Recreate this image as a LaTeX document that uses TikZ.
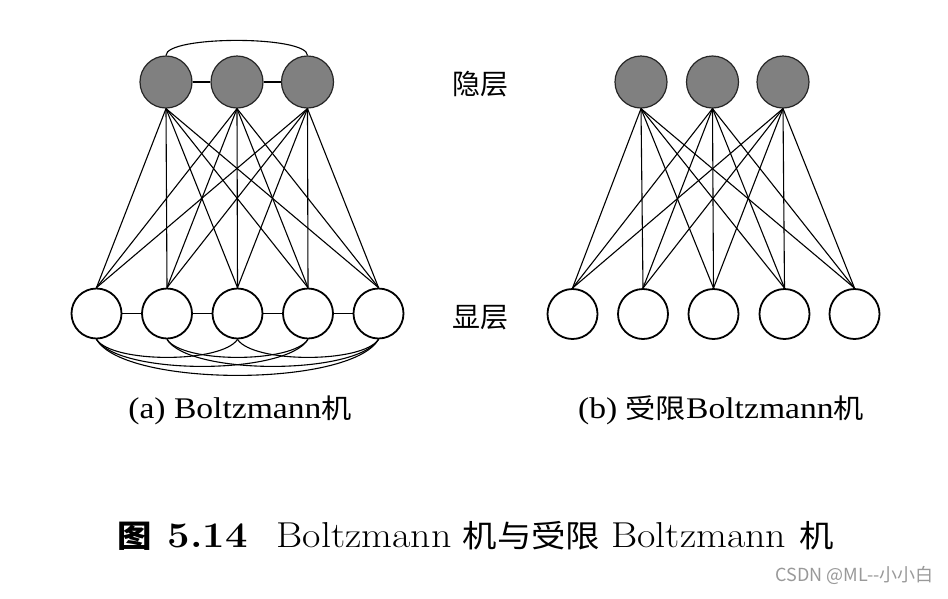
\documentclass[tikz,border=0pt]{standalone}
\usepackage{fontspec}
\newfontfamily\cjk{Noto Sans CJK SC}
\newfontfamily\tnr{Liberation Serif}
\newfontfamily\wmfont{Noto Sans CJK SC}
\tikzset{
  hid/.style={circle, minimum size=52pt, inner sep=0pt, draw=black!85, fill=black!50, line width=1.2pt},
  vis/.style={circle, minimum size=50pt, inner sep=0pt, draw=black, fill=white, line width=1.8pt},
  edge/.style={line width=1.1pt, black},
  layerlabel/.style={font=\cjk\fontsize{28}{28}\selectfont},
}
\begin{document}
\begin{tikzpicture}[x=1pt, y=-1pt]
\path[fill=white] (0,0) rectangle (948,598);
\useasboundingbox (0,0) rectangle (948,598);

% ---------- (a) Boltzmann machine ----------
\node[hid] (h1) at (166,82) {};
\node[hid] (h2) at (237,82) {};
\node[hid] (h3) at (307.5,82) {};
\node[vis] (v1) at (96.5,313.5) {};
\node[vis] (v2) at (167,313.5) {};
\node[vis] (v3) at (237.5,313.5) {};
\node[vis] (v4) at (308,313.5) {};
\node[vis] (v5) at (378.5,313.5) {};

\foreach \h in {h1,h2,h3}
  \foreach \v in {v1,v2,v3,v4,v5}
    \draw[edge] (\h.south) -- (\v.north);

\draw[edge] (h1) -- (h2);
\draw[edge] (h2) -- (h3);
\draw[edge] (h1.north) .. controls +(0,-20) and +(0,-20) .. (h3.north);

\draw[edge] (v1) -- (v2);
\draw[edge] (v2) -- (v3);
\draw[edge] (v3) -- (v4);
\draw[edge] (v4) -- (v5);
\draw[edge] (v1.south) .. controls +(16,24) and +(-16,24) .. (v3.south);
\draw[edge] (v2.south) .. controls +(16,24) and +(-16,24) .. (v4.south);
\draw[edge] (v3.south) .. controls +(16,24) and +(-16,24) .. (v5.south);
\draw[edge] (v1.south) .. controls +(22,36) and +(-22,36) .. (v4.south);
\draw[edge] (v2.south) .. controls +(22,36) and +(-22,36) .. (v5.south);
\draw[edge] (v1.south) .. controls +(28,48) and +(-28,48) .. (v5.south);

% ---------- (b) restricted Boltzmann machine ----------
\node[hid] (H1) at (641,82) {};
\node[hid] (H2) at (712.5,82) {};
\node[hid] (H3) at (783,82) {};
\node[vis] (V1) at (572.5,314) {};
\node[vis] (V2) at (643,314) {};
\node[vis] (V3) at (713.5,314) {};
\node[vis] (V4) at (784.5,314) {};
\node[vis] (V5) at (854.5,314) {};

\foreach \h in {H1,H2,H3}
  \foreach \v in {V1,V2,V3,V4,V5}
    \draw[edge] (\h.south) -- (\v.north);

% ---------- labels ----------
\node[layerlabel] (lhid) at (480,84) {隐层};
\node[layerlabel] (lvis) at (480,318) {显层};

\node[anchor=base] (capa) at (240,418)
  {\scalebox{1.12}[1]{\tnr\fontsize{30}{30}\selectfont (a) Boltzmann{\cjk\fontsize{27}{27}\selectfont 机}}};
\node[anchor=base] (capb) at (721,418)
  {\scalebox{1.12}[1]{\tnr\fontsize{30}{30}\selectfont (b) {\cjk\fontsize{27}{27}\selectfont 受限}Boltzmann{\cjk\fontsize{27}{27}\selectfont 机}}};

\node[anchor=base] (title) at (476,547)
  {\scalebox{1.11}[1]{\fontsize{36}{36}\selectfont{\cjk\bfseries\fontsize{31}{31}\selectfont 图}\hspace{14pt}{\bfseries 5.14}\hspace{26pt}Boltzmann\hspace{10pt}{\cjk\fontsize{31}{31}\selectfont 机与受限}\hspace{10pt}Boltzmann\hspace{12pt}{\cjk\fontsize{31}{31}\selectfont 机}}};

\node[anchor=east, text=black!40] (wm) at (937,575)
  {\wmfont\fontsize{18}{18}\selectfont CSDN @ML--小小白};
\end{tikzpicture}
\end{document}
